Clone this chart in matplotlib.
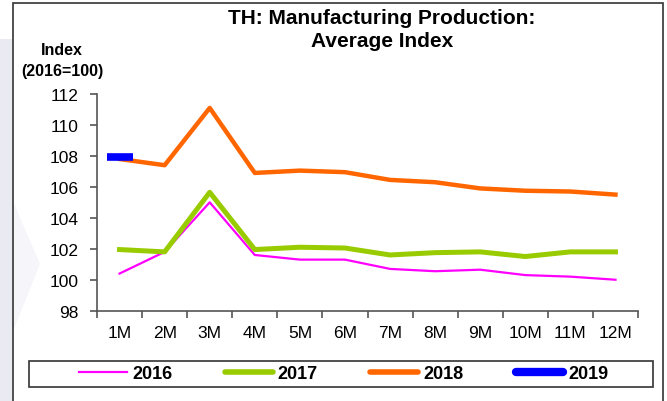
import numpy as np
import matplotlib.pyplot as plt
from matplotlib.patches import Rectangle, Polygon

plt.rcParams['font.family'] = ['Liberation Sans', 'DejaVu Sans']

# Data
months = ['1M', '2M', '3M', '4M', '5M', '6M', '7M', '8M', '9M', '10M', '11M', '12M']
y2016 = [100.4, 101.8, 105.0, 101.6, 101.3, 101.3, 100.7, 100.55, 100.65, 100.3, 100.2, 100.0]
y2017 = [101.95, 101.8, 105.65, 101.95, 102.1, 102.05, 101.6, 101.75, 101.8, 101.5, 101.8, 101.8]
y2018 = [107.8, 107.4, 111.1, 106.9, 107.05, 106.95, 106.45, 106.3, 105.9, 105.75, 105.7, 105.5]
y2019 = [107.95]

fs = 12.5  # Fontsize
fig = plt.figure(figsize=(6.67, 4.02), dpi=100)

# light background shape on the left and the outer frame
fig.patches.append(Rectangle((0, 0), 12/667, 1 - 40/402, transform=fig.transFigure,
                             facecolor='#eaeaf3', edgecolor='none', zorder=0))
fig.patches.append(Polygon([(12/667, 1 - 200/402), (40/667, 1 - 265/402), (12/667, 1 - 335/402)],
                           closed=True, transform=fig.transFigure,
                           facecolor='#f6f6fa', edgecolor='none', zorder=0))
fig.patches.append(Rectangle((13/667, -0.05), 650/667, 1.05 - 4/402, transform=fig.transFigure,
                             facecolor='none', edgecolor='#333333', linewidth=1.2, zorder=1))

ax = fig.add_axes([97/667, 1 - 311.7/402, 541/667, 216.7/402])
x = np.arange(len(months))
ax.plot(x, y2016, color='#ff00ff', lw=1.6, label='2016')
ax.plot(x, y2017, color='#99cc00', lw=3.6, label='2017')
ax.plot(x, y2018, color='#ff6600', lw=3.2, label='2018')
ax.plot(x[:len(y2019)], y2019, color='#0000ff', lw=5, marker='_', ms=19, mew=5.5, label='2019')

ax.set_xlim(-0.5, len(months) - 0.5)
ax.set_ylim(98, 112)
ax.set_yticks(np.arange(98, 113, 2))
ax.set_xticks(x)
ax.set_xticklabels(months, fontsize=fs)
ax.set_xticks(np.arange(-0.5, len(months)), minor=True)
ax.tick_params(axis='x', which='major', length=0, pad=10)
ax.tick_params(axis='x', which='minor', length=5, color='#555555', width=1.2)
ax.tick_params(axis='y', length=5, color='#555555', width=1.2, labelsize=fs, pad=8)
for s in ['top', 'right']:
    ax.spines[s].set_visible(False)
for s in ['left', 'bottom']:
    ax.spines[s].set_color('#555555')
    ax.spines[s].set_linewidth(1.2)

fig.text(382/667, 1 - 30/402, 'TH: Manufacturing Production:\nAverage Index', ha='center', va='center',
         fontsize=15, fontweight='bold', linespacing=1.3)
fig.text(62/667, 1 - 61/402, 'Index\n(2016=100)', ha='center', va='center',
         fontsize=11.5, fontweight='bold', linespacing=1.5)

# legend box
fig.patches.append(Rectangle((29/667, 1 - 388/402), 624/667, 26/402, transform=fig.transFigure,
                             facecolor='white', edgecolor='#333333', linewidth=1.2))
h, l = ax.get_legend_handles_labels()
h[3] = plt.Line2D([], [], color='#0000ff', lw=6, solid_capstyle='round')
h[2] = plt.Line2D([], [], color='#ff6600', lw=4, solid_capstyle='round')
h[1] = plt.Line2D([], [], color='#99cc00', lw=4, solid_capstyle='round')
leg = fig.legend(h, l, loc='center', bbox_to_anchor=(344/667, 1 - 375/402), ncol=4, frameon=False,
                 prop={'weight': 'bold', 'size': 13}, handlelength=2.65, handletextpad=0.28,
                 columnspacing=2.9)

fig.savefig('out.png', dpi=100)
